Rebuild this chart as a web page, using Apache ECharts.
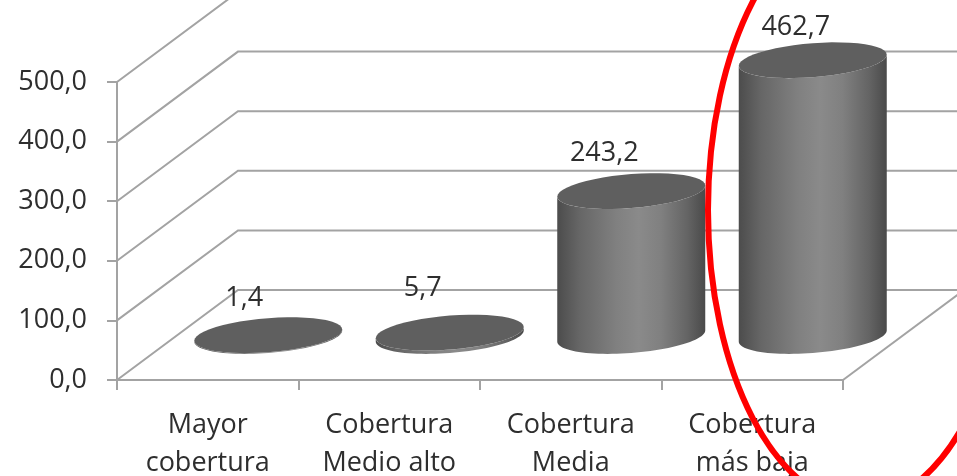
<!DOCTYPE html>
<html>
<head>
<meta charset="utf-8">
<style>html,body{margin:0;padding:0;background:#fff}#chart{width:957px;height:476px}</style>
<script src="https://cdn.jsdelivr.net/npm/echarts@6/dist/echarts.min.js"></script>
</head>
<body>
<div id="chart"></div>
<script>
// Cobertura categories and their values
const categories = ['Mayor\ncobertura', 'Cobertura\nMedio alto', 'Cobertura\nMedia', 'Cobertura\nmás baja'];
const values = [1.4, 5.7, 243.2, 462.7];
const wallTicks = [0, 100, 200, 300, 400, 500];

// Pixel nudges of the value labels relative to each cylinder's top centre
const labelOffsets = [[-24, -37], [-27, -44], [-27, -38], [-17, -33]];

// Oblique projection of the floor depth
const DEPTH_X = 121;
const DEPTH_Y = -90;
const ELLIPSE_A = 74;
const ELLIPSE_B = 17;
const ELLIPSE_SHEAR = 5.6;

const FONT = '"Open Sans"';
const FONT_SIZE = 27;
const TEXT = '#2e2e2e';
const LINE = '#a3a3a3';

const comma = v => v.toFixed(1).replace('.', ',');

// Points along a sheared ellipse between two parameter angles
function arcPoints(cx, cy, from, to) {
  const pts = [];
  const steps = 48;
  for (let i = 0; i <= steps; i++) {
    const t = from + (to - from) * i / steps;
    pts.push([
      cx + ELLIPSE_A * Math.cos(t),
      cy + ELLIPSE_B * Math.sin(t) - ELLIPSE_SHEAR * Math.cos(t)
    ]);
  }
  return pts;
}

function renderWall(params, api) {
  const box = params.coordSys;
  const y = api.coord([0, api.value(1)])[1];
  return {
    type: 'polyline',
    shape: { points: [[box.x, y], [box.x + DEPTH_X, y + DEPTH_Y], [box.x + box.width + DEPTH_X, y + DEPTH_Y]] },
    style: { fill: null, stroke: LINE, lineWidth: 2 }
  };
}

function renderFloorEdge(params) {
  const box = params.coordSys;
  const y = box.y + box.height;
  return {
    type: 'line',
    shape: { x1: box.x + box.width, y1: y, x2: box.x + box.width + DEPTH_X, y2: y + DEPTH_Y },
    style: { stroke: LINE, lineWidth: 2 }
  };
}

function renderCylinder(params, api) {
  const i = params.dataIndex;
  const base = api.coord([api.value(0), 0]);
  const top = api.coord([api.value(0), api.value(1)]);
  const cx = base[0] + DEPTH_X / 2;
  const yBase = base[1] + DEPTH_Y / 2 + 1;
  const yTop = top[1] + DEPTH_Y / 2 + 1;
  const side = arcPoints(cx, yBase, 0, Math.PI).concat(arcPoints(cx, yTop, Math.PI, 0));
  return {
    type: 'group',
    children: [
      {
        type: 'polygon',
        shape: { points: side },
        style: {
          fill: new echarts.graphic.LinearGradient(0, 0, 1, 0, [
            { offset: 0, color: '#4c4c4c' },
            { offset: 0.15, color: '#666666' },
            { offset: 0.4, color: '#808080' },
            { offset: 0.55, color: '#8a8a8a' },
            { offset: 0.7, color: '#808080' },
            { offset: 0.88, color: '#646464' },
            { offset: 1, color: '#4a4a4a' }
          ])
        }
      },
      {
        type: 'polygon',
        shape: { points: arcPoints(cx, yTop, 0, Math.PI * 2) },
        style: { fill: '#5f5f5f' }
      },
      {
        type: 'text',
        style: {
          text: comma(api.value(1)),
          x: cx + labelOffsets[i][0],
          y: yTop + labelOffsets[i][1],
          align: 'center',
          verticalAlign: 'middle',
          fill: TEXT,
          font: FONT_SIZE + 'px ' + FONT
        }
      }
    ]
  };
}

const chart = echarts.init(document.getElementById('chart'), null, { renderer: 'canvas' });
chart.setOption({
  animation: false,
  backgroundColor: '#ffffff',
  grid: { left: 117, right: 114, top: 82, bottom: 96, containLabel: false, outerBoundsMode: 'none' },
  xAxis: {
    type: 'category',
    data: categories,
    axisLine: { lineStyle: { color: LINE, width: 2 } },
    axisTick: { show: true, length: 10, lineStyle: { color: LINE, width: 2 } },
    axisLabel: { color: TEXT, fontFamily: FONT, fontSize: FONT_SIZE, lineHeight: 38, margin: 26, interval: 0 }
  },
  yAxis: {
    type: 'value',
    min: 0,
    max: 500,
    interval: 100,
    splitLine: { show: false },
    axisLine: { show: true, lineStyle: { color: LINE, width: 2 } },
    axisTick: { show: true, length: 10, lineStyle: { color: LINE, width: 2 } },
    axisLabel: { color: TEXT, fontFamily: FONT, fontSize: FONT_SIZE, margin: 30, padding: [2, 0, 0, 0], formatter: comma }
  },
  graphic: [{
    type: 'ellipse',
    z: 100,
    shape: { cx: 860, cy: 210, rx: 152, ry: 294 },
    style: { fill: null, stroke: '#ff0000', lineWidth: 6 }
  }],
  series: [
    {
      type: 'custom',
      renderItem: renderWall,
      data: wallTicks.map(v => [0, v]),
      silent: true,
      z: 1
    },
    {
      type: 'custom',
      renderItem: renderFloorEdge,
      data: [[0, 0]],
      silent: true,
      z: 1
    },
    {
      type: 'custom',
      renderItem: renderCylinder,
      data: values.map((v, i) => [i, v]),
      silent: true,
      z: 2
    }
  ]
});
</script>
</body>
</html>
